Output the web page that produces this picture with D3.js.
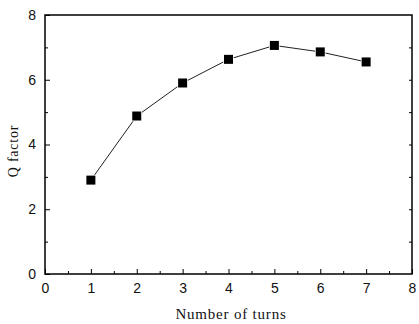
<!DOCTYPE html>
<html>
<head>
<meta charset="utf-8">
<script src="https://cdn.jsdelivr.net/npm/d3@7"></script>
<style>
  body { margin: 0; background: #fff; }
  svg { display: block; }
</style>
</head>
<body>
<div id="chart"></div>
<script>
const turns = [1, 2, 3, 4, 5, 6, 7];
const qFactor = [2.9, 4.88, 5.9, 6.63, 7.06, 6.86, 6.55];
const xTicks = [0, 1, 2, 3, 4, 5, 6, 7, 8];
const yTicks = [0, 2, 4, 6, 8];

const width = 419;
const height = 324;
const margin = { top: 15, right: 7, bottom: 50, left: 45 };

const svg = d3.select('#chart')
  .append('svg')
  .attr('width', width)
  .attr('height', height);

const x = d3.scaleLinear()
  .domain([0, 8])
  .range([margin.left, width - margin.right]);

const y = d3.scaleLinear()
  .domain([0, 8])
  .range([height - margin.bottom, margin.top]);

// frame
svg.append('rect')
  .attr('x', x(0))
  .attr('y', y(8))
  .attr('width', x(8) - x(0))
  .attr('height', y(0) - y(8))
  .attr('fill', 'none')
  .attr('stroke', '#000')
  .attr('stroke-width', 1.5);

// bottom axis, ticks inward
const xAxis = svg.append('g')
  .attr('transform', `translate(0,${y(0)})`)
  .call(d3.axisBottom(x).tickValues(xTicks).tickSize(-5).tickPadding(9).tickFormat(d3.format('d')));
xAxis.select('.domain').remove();
xAxis.selectAll('text')
  .attr('font-family', 'Liberation Sans, Arial, sans-serif')
  .attr('font-size', 14)
  .attr('fill', '#111');

svg.append('g')
  .attr('transform', `translate(0,${y(0)})`)
  .call(d3.axisBottom(x).tickValues(d3.range(0.5, 8, 1)).tickSize(-3).tickFormat(''))
  .select('.domain').remove();

// left axis
const yAxis = svg.append('g')
  .attr('transform', `translate(${x(0)},0)`)
  .call(d3.axisLeft(y).tickValues(yTicks).tickSize(-5).tickPadding(9).tickFormat(d3.format('d')));
yAxis.select('.domain').remove();
yAxis.selectAll('text')
  .attr('font-family', 'Liberation Sans, Arial, sans-serif')
  .attr('font-size', 14)
  .attr('fill', '#111');

svg.append('g')
  .attr('transform', `translate(${x(0)},0)`)
  .call(d3.axisLeft(y).tickValues(d3.range(1, 8, 2)).tickSize(-3).tickFormat(''))
  .select('.domain').remove();

// right side small ticks
svg.append('g')
  .attr('transform', `translate(${x(8)},0)`)
  .call(d3.axisRight(y).tickValues(d3.range(1, 8, 1)).tickSize(-3).tickFormat(''))
  .select('.domain').remove();

// line
const line = d3.line()
  .x((d, i) => x(turns[i]))
  .y(d => y(d));

svg.append('path')
  .datum(qFactor)
  .attr('d', line)
  .attr('fill', 'none')
  .attr('stroke', '#222')
  .attr('stroke-width', 1);

// markers
const size = 9;
svg.selectAll('rect.pt')
  .data(qFactor)
  .enter()
  .append('rect')
  .attr('class', 'pt')
  .attr('x', (d, i) => x(turns[i]) - size / 2)
  .attr('y', d => y(d) - size / 2)
  .attr('width', size)
  .attr('height', size)
  .attr('fill', '#000')
  .attr('stroke', '#fff')
  .attr('stroke-width', 1.5)
  .attr('paint-order', 'stroke');

// axis titles
svg.append('text')
  .text('Number of turns')
  .attr('x', 231)
  .attr('y', 319)
  .attr('text-anchor', 'middle')
  .attr('font-family', 'Liberation Serif, Times New Roman, serif')
  .attr('font-size', 15)
  .attr('letter-spacing', 0.8)
  .attr('fill', '#111');

svg.append('text')
  .text('Q factor')
  .attr('transform', `translate(18,151) rotate(-90)`)
  .attr('text-anchor', 'middle')
  .attr('font-family', 'Liberation Serif, Times New Roman, serif')
  .attr('font-size', 14)
  .attr('letter-spacing', 0.8)
  .attr('fill', '#111');
</script>
</body>
</html>
